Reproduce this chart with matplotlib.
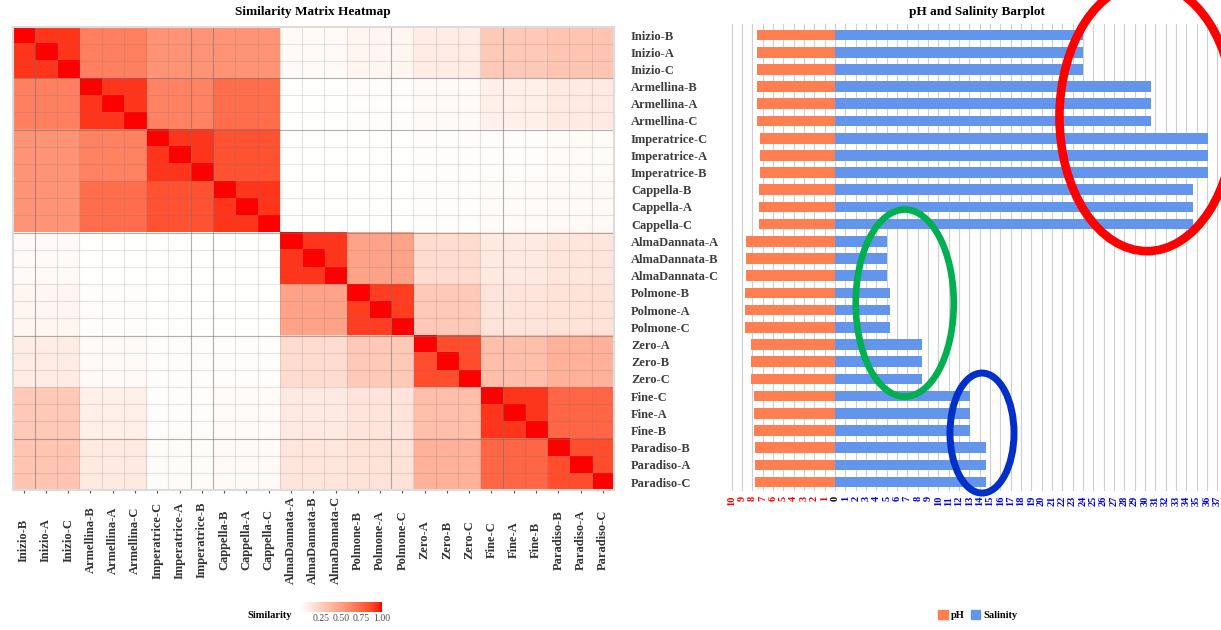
import numpy as np
import matplotlib
matplotlib.use("Agg")
import matplotlib.pyplot as plt
from matplotlib.colors import ListedColormap, Normalize
from matplotlib.cm import ScalarMappable
from matplotlib.patches import Ellipse, Patch

plt.rcParams["font.family"] = ["Liberation Serif", "DejaVu Serif"]

# -------------------------
# Data
# -------------------------
samples = [
    "Inizio-B", "Inizio-A", "Inizio-C",
    "Armellina-B", "Armellina-A", "Armellina-C",
    "Imperatrice-C", "Imperatrice-A", "Imperatrice-B",
    "Cappella-B", "Cappella-A", "Cappella-C",
    "AlmaDannata-A", "AlmaDannata-B", "AlmaDannata-C",
    "Polmone-B", "Polmone-A", "Polmone-C",
    "Zero-A", "Zero-B", "Zero-C",
    "Fine-C", "Fine-A", "Fine-B",
    "Paradiso-B", "Paradiso-A", "Paradiso-C",
]
sites = ["Inizio", "Armellina", "Imperatrice", "Cappella", "AlmaDannata",
         "Polmone", "Zero", "Fine", "Paradiso"]

# site-level measurements (3 replicates per site)
ph_site = [7.6, 7.55, 7.25, 7.35, 8.6, 8.7, 8.1, 7.8, 7.75]
salinity_site = [24.0, 30.6, 36.1, 34.7, 5.0, 5.3, 8.4, 13.1, 14.6]

# similarity between sites (diagonal = between replicates of the same site)
site_similarity = np.array([
    [0.92, 0.64, 0.55, 0.55, 0.03, 0.05, 0.10, 0.28, 0.30],
    [0.64, 0.92, 0.63, 0.72, 0.00, 0.01, 0.03, 0.08, 0.11],
    [0.55, 0.63, 0.92, 0.83, 0.00, 0.00, 0.01, 0.01, 0.02],
    [0.55, 0.72, 0.83, 0.92, 0.00, 0.00, 0.01, 0.02, 0.03],
    [0.03, 0.00, 0.00, 0.00, 0.92, 0.47, 0.18, 0.11, 0.13],
    [0.05, 0.01, 0.00, 0.00, 0.47, 0.90, 0.28, 0.14, 0.15],
    [0.10, 0.03, 0.01, 0.01, 0.18, 0.28, 0.85, 0.33, 0.40],
    [0.28, 0.08, 0.01, 0.02, 0.11, 0.14, 0.33, 0.92, 0.75],
    [0.30, 0.11, 0.02, 0.03, 0.13, 0.15, 0.40, 0.75, 0.85],
])

ph = np.repeat(ph_site, 3)
salinity = np.repeat(salinity_site, 3)
sim = np.kron(site_similarity, np.ones((3, 3)))
np.fill_diagonal(sim, 1.0)


# white -> red gradient interpolated in Lab space
def lab_to_rgb(L, a, b):
    fy = (L + 16) / 116
    fx = fy + a / 500
    fz = fy - b / 200

    def finv(t):
        return np.where(t > 6 / 29, t ** 3, 3 * (6 / 29) ** 2 * (t - 4 / 29))

    X = 0.95047 * finv(fx)
    Y = finv(fy)
    Z = 1.08883 * finv(fz)
    r = 3.2406 * X - 1.5372 * Y - 0.4986 * Z
    g = -0.9689 * X + 1.8758 * Y + 0.0415 * Z
    bb = 0.0557 * X - 0.2040 * Y + 1.0570 * Z
    rgb = np.clip(np.stack([r, g, bb], -1), 0, None)
    rgb = np.where(rgb <= 0.0031308, 12.92 * rgb, 1.055 * rgb ** (1 / 2.4) - 0.055)
    return np.clip(rgb, 0, 1)


t = np.linspace(0, 1, 256)
white_lab = np.array([100.0, 0.0, 0.0])
red_lab = np.array([53.24, 80.09, 67.20])
lab = white_lab + t[:, None] * (red_lab - white_lab)
sim_cmap = ListedColormap(lab_to_rgb(lab[:, 0], lab[:, 1], lab[:, 2]))

W, H = 1221, 630
fig = plt.figure(figsize=(W / 100, H / 100), dpi=100)

# -------------------------
# Heatmap
# -------------------------
ax_hm = fig.add_axes([12.5 / W, 1 - 490 / H, 601.5 / W, 463.3 / H])
ax_hm.imshow(sim, cmap=sim_cmap, vmin=0, vmax=1, aspect="auto",
             interpolation="nearest")
n = len(samples)
dark_v = {1, 8, 9, 17, 22}
dark_h = {3, 6, 12, 18, 24}
for k in range(1, n):
    ax_hm.axvline(k - 0.5, color="#707070", lw=0.8,
                  alpha=0.55 if k in dark_v else 0.18)
    ax_hm.axhline(k - 0.5, color="#707070", lw=0.8,
                  alpha=0.55 if k in dark_h else 0.18)
ax_hm.set_xticks(range(n))
ax_hm.set_xticklabels(samples, rotation=90, va="center", ha="center",
                      fontweight="bold", fontsize=9, color="#333333")
ax_hm.tick_params(axis="x", length=2.5, pad=33.5, color="#555555")
ax_hm.set_yticks([])
for s in ax_hm.spines.values():
    s.set_color("#dcdcdc")
    s.set_linewidth(1.5)

fig.text(313 / W, 1 - 12 / H, "Similarity Matrix Heatmap", ha="center",
         va="center", fontweight="bold", fontsize=9.5)

# colourbar
cax = fig.add_axes([300.7 / W, 1 - 611.7 / H, 81 / W, 9.4 / H])
cb = fig.colorbar(ScalarMappable(norm=Normalize(0, 1), cmap=sim_cmap), cax=cax,
                  orientation="horizontal", ticks=[0.25, 0.5, 0.75, 1.0])
cb.outline.set_visible(False)
cb.ax.set_xticklabels(["0.25", "0.50", "0.75", "1.00"])
cb.ax.tick_params(length=0, pad=2, labelsize=7, colors="#4d4d4d")
fig.text(270 / W, 1 - 615 / H, "Similarity", ha="center", va="center",
         fontweight="bold", fontsize=7.5)

# -------------------------
# pH / salinity barplot
# -------------------------
ax_bar = fig.add_axes([727.6 / W, 1 - 491 / H, 493.4 / W, 467 / H])
y = np.arange(n)
ax_bar.barh(y, -ph, height=0.62, color="#FF7F50", zorder=2)
ax_bar.barh(y, salinity, height=0.62, color="#6495ED", zorder=2)
ax_bar.set_xlim(-10.4, 37.37)
ax_bar.set_ylim(26.52, -0.64)

ticks = np.arange(-10, 38)
ax_bar.set_xticks(ticks)
ax_bar.set_xticklabels([str(abs(v)) for v in ticks], rotation=90, va="top",
                       fontsize=7.5, fontweight="bold")
for v, lab_txt in zip(ticks, ax_bar.get_xticklabels()):
    lab_txt.set_color("red" if v < 0 else ("black" if v == 0 else "blue"))
ax_bar.tick_params(axis="x", length=0, pad=3.6)
ax_bar.grid(axis="x", color="#cfcfcf", lw=0.8, zorder=0)
ax_bar.set_axisbelow(True)

ax_bar.set_yticks(y)
ax_bar.set_yticklabels(samples, ha="left", fontweight="bold", fontsize=9,
                       color="#3d3d3d")
ax_bar.tick_params(axis="y", length=0, pad=69.6)
for s in ax_bar.spines.values():
    s.set_visible(False)

fig.text(977 / W, 1 - 12 / H, "pH and Salinity Barplot", ha="center",
         va="center", fontweight="bold", fontsize=9.5)

# highlighted groups
ax_bar.add_patch(Ellipse((30.2, 4.77), 16.94, 15.6, fill=False,
                         edgecolor="#FF0000", lw=6.2, clip_on=False, zorder=5))
ax_bar.add_patch(Ellipse((6.75, 15.59), 9.49, 10.88, fill=False,
                         edgecolor="#00B050", lw=4.8, clip_on=False, zorder=5))
ax_bar.add_patch(Ellipse((14.23, 23.15), 6.2, 6.98, fill=False,
                         edgecolor="#0030C8", lw=5.0, clip_on=False, zorder=5))

fig.legend(handles=[Patch(color="#FF7F50", label="pH"),
                    Patch(color="#6495ED", label="Salinity")],
           loc="center", bbox_to_anchor=(978 / W, 1 - 615 / H), ncol=2,
           frameon=False, prop={"weight": "bold", "size": 7.5},
           handlelength=0.9, handleheight=0.9, handletextpad=0.3,
           columnspacing=0.6)

fig.savefig("out.png", dpi=100)
